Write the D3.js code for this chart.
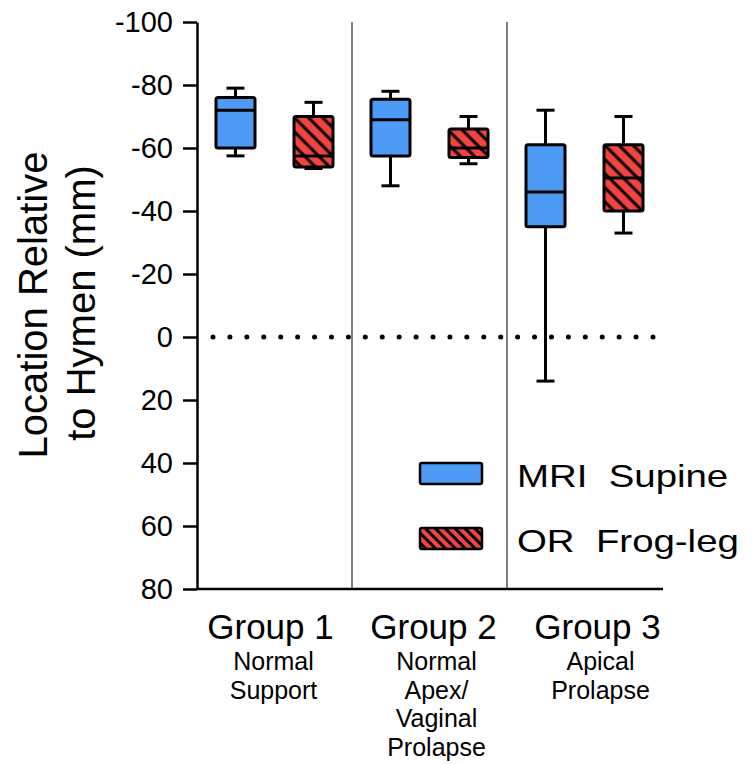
<!DOCTYPE html>
<html lang="en">
<head>
    <meta charset="UTF-8">
    <title>Location Relative to Hymen</title>
    <script src="https://d3js.org/d3.v7.min.js"></script>
    <style>
        body { margin: 0; background: #fff; }
        svg { display: block; font-family: "Liberation Sans", Arial, sans-serif; }
    </style>
</head>
<body>
    <div id="chart"></div>
    <script>
        const groups = ['Group 1', 'Group 2', 'Group 3'];
        const groupNotes = [['Normal', 'Support'], ['Normal', 'Apex/', 'Vaginal', 'Prolapse'], ['Apical', 'Prolapse']];
        const seriesNames = ['MRI  Supine', 'OR  Frog-leg'];
        const yTicks = [-100, -80, -60, -40, -20, 0, 20, 40, 60, 80];

        // box summaries per group, mm (negative = above hymen)
        const mriLow = [-79, -78, -72];
        const mriQ1 = [-76, -75.5, -61];
        const mriMedian = [-72, -69, -46];
        const mriQ3 = [-60, -57.5, -35];
        const mriHigh = [-57.5, -48, 14];

        const orLow = [-74.5, -70, -70];
        const orQ1 = [-70, -66, -61];
        const orMedian = [-57.5, -60, -50.5];
        const orQ3 = [-54, -57, -40];
        const orHigh = [-53.5, -55, -33];

        const width = 752;
        const height = 764;
        const colors = ['#4e9bf5', '#f4443f'];
        const boxW = 39;
        const capW = 18;

        const svg = d3.select('#chart').append('svg')
            .attr('width', width)
            .attr('height', height);

        // hatch patterns for the OR series
        const defs = svg.append('defs');
        function hatch(id, step) {
            const p = defs.append('pattern')
                .attr('id', id)
                .attr('patternUnits', 'userSpaceOnUse')
                .attr('width', step)
                .attr('height', step)
                .attr('patternTransform', 'rotate(45)');
            p.append('rect').attr('width', step).attr('height', step).attr('fill', colors[1]);
            p.append('line')
                .attr('x1', 0).attr('x2', step)
                .attr('y1', step / 2).attr('y2', step / 2)
                .attr('stroke', '#000').attr('stroke-width', 3);
        }
        hatch('hatchBox', 10);
        hatch('hatchLegend', 7);
        const fills = [colors[0], 'url(#hatchBox)'];

        const y = d3.scaleLinear().domain([-100, 80]).range([22, 589]);
        const x = d3.scaleBand().domain(groups).range([197, 662]);
        const xs = d3.scalePoint().domain(seriesNames).range([38.5, 116.5]);

        const boxes = [];
        groups.forEach((g, i) => {
            boxes.push({ group: g, series: seriesNames[0], low: mriLow[i], q1: mriQ1[i], median: mriMedian[i], q3: mriQ3[i], high: mriHigh[i], s: 0 });
            boxes.push({ group: g, series: seriesNames[1], low: orLow[i], q1: orQ1[i], median: orMedian[i], q3: orQ3[i], high: orHigh[i], s: 1 });
        });

        // group separators
        svg.selectAll('.sep')
            .data(groups.slice(1))
            .enter().append('line')
            .attr('class', 'sep')
            .attr('x1', d => x(d)).attr('x2', d => x(d))
            .attr('y1', y(-100)).attr('y2', y(80))
            .attr('stroke', '#555')
            .attr('stroke-width', 1.5);

        // dotted line at the hymen
        const dotStart = 213, dotEnd = 653;
        svg.append('line')
            .attr('x1', dotStart).attr('x2', dotEnd)
            .attr('y1', y(0)).attr('y2', y(0))
            .attr('stroke', '#000')
            .attr('stroke-width', 5)
            .attr('stroke-linecap', 'round')
            .attr('stroke-dasharray', `0 ${(dotEnd - dotStart) / 26}`);

        // y axis (plain hyphen for negatives, like the original)
        const yAxis = svg.append('g')
            .attr('transform', `translate(${x.range()[0]},0)`)
            .call(d3.axisLeft(y).tickValues(yTicks).tickFormat(d => String(d))
                .tickSize(14).tickSizeOuter(0).tickPadding(10));
        yAxis.attr('font-family', null).attr('font-size', 29);
        yAxis.selectAll('text').attr('fill', '#000');
        yAxis.selectAll('line, path').attr('stroke', '#000').attr('stroke-width', 2.5);

        // x axis line
        svg.append('line')
            .attr('x1', x.range()[0]).attr('x2', x.range()[1] + 1)
            .attr('y1', y(80)).attr('y2', y(80))
            .attr('stroke', '#000')
            .attr('stroke-width', 2.5);

        // boxes
        const bx = d => x(d.group) + xs(d.series);
        const boxG = svg.selectAll('.box')
            .data(boxes)
            .enter().append('g')
            .attr('class', 'box');

        boxG.append('line')
            .attr('x1', bx).attr('x2', bx)
            .attr('y1', d => y(d.low)).attr('y2', d => y(d.high))
            .attr('stroke', '#000').attr('stroke-width', 3);

        boxG.selectAll('.cap')
            .data(d => [d.low, d.high].map(v => ({ v, cx: bx(d) })))
            .enter().append('line')
            .attr('x1', d => d.cx - capW / 2).attr('x2', d => d.cx + capW / 2)
            .attr('y1', d => y(d.v)).attr('y2', d => y(d.v))
            .attr('stroke', '#000').attr('stroke-width', 3);

        boxG.append('rect')
            .attr('x', d => bx(d) - boxW / 2)
            .attr('width', boxW)
            .attr('y', d => y(d.q1))
            .attr('height', d => y(d.q3) - y(d.q1))
            .attr('rx', 2)
            .attr('fill', d => fills[d.s])
            .attr('stroke', '#000').attr('stroke-width', 3);

        boxG.append('line')
            .attr('x1', d => bx(d) - boxW / 2).attr('x2', d => bx(d) + boxW / 2)
            .attr('y1', d => y(d.median)).attr('y2', d => y(d.median))
            .attr('stroke', '#000').attr('stroke-width', 3);

        // y axis title
        const yTitle = ['Location Relative', 'to Hymen (mm)'];
        svg.selectAll('.ytitle')
            .data(yTitle)
            .enter().append('text')
            .attr('class', 'ytitle')
            .attr('transform', (d, i) => `translate(${47 + i * 48},${305 - i * 2}) rotate(-90)`)
            .attr('text-anchor', 'middle')
            .attr('font-size', 40)
            .text(d => d);

        // group labels
        const labelShift = [-4, 4, 13];
        const labels = svg.selectAll('.glabel')
            .data(groups)
            .enter().append('g')
            .attr('class', 'glabel')
            .attr('transform', (d, i) => `translate(${x(d) + x.bandwidth() / 2 + labelShift[i]},0)`);

        labels.append('text')
            .attr('y', 639)
            .attr('text-anchor', 'middle')
            .attr('font-size', 35)
            .text(d => d);

        labels.selectAll('.note')
            .data((d, i) => groupNotes[i])
            .enter().append('text')
            .attr('class', 'note')
            .attr('x', 3)
            .attr('y', (d, i) => 670 + i * 28.5)
            .attr('text-anchor', 'middle')
            .attr('font-size', 25)
            .text(d => d);

        // legend
        const legend = svg.selectAll('.legend')
            .data(seriesNames)
            .enter().append('g')
            .attr('class', 'legend')
            .attr('transform', (d, i) => `translate(420,${463 + i * 65})`);

        legend.append('rect')
            .attr('width', 62).attr('height', 21)
            .attr('rx', 2)
            .attr('fill', (d, i) => i === 0 ? colors[0] : 'url(#hatchLegend)')
            .attr('stroke', '#000').attr('stroke-width', 2.5);

        legend.append('text')
            .attr('transform', 'translate(97,24) scale(1.2,1)')
            .attr('font-size', 32)
            .style('white-space', 'pre')
            .text(d => d);
    </script>
</body>
</html>
